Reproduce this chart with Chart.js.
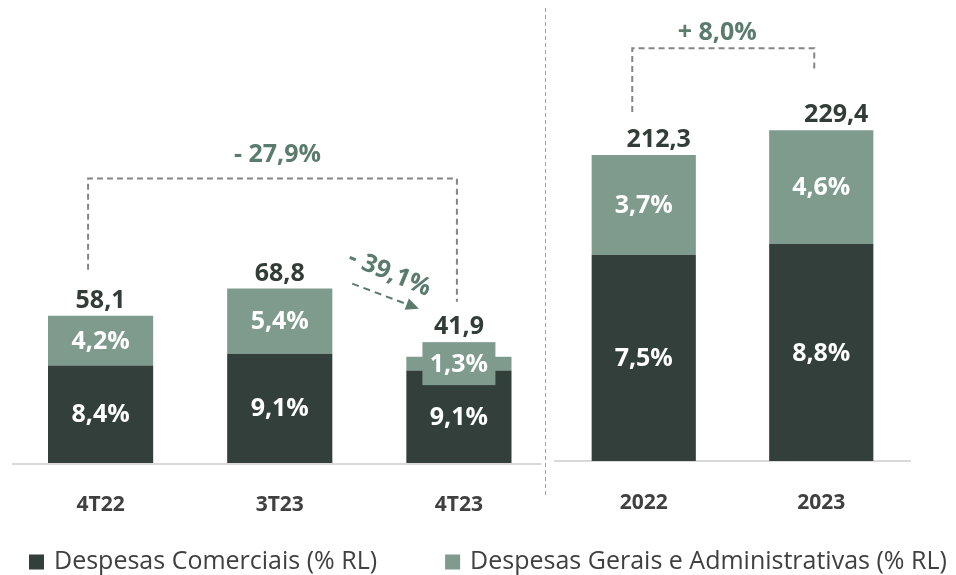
<!DOCTYPE html>
<html>
<head>
<meta charset="utf-8">
<script src="https://cdn.jsdelivr.net/npm/chart.js@4.4.1/dist/chart.umd.min.js"></script>
<style>
html, body { margin: 0; padding: 0; background: #ffffff; }
#wrap { position: relative; width: 956px; height: 575px; overflow: hidden; }
#wrap canvas { position: absolute; left: 0; top: 0; }
</style>
</head>
<body>
<div id="wrap">
  <canvas id="cQ" width="956" height="575"></canvas>
  <canvas id="cY" width="956" height="575"></canvas>
</div>
<script>
// ---------- data ----------
const quarterLabels = ['4T22', '3T23', '4T23'];
const quarterComerciais = [38.5, 43.1, 36.5];
const quarterGerais = [19.6, 25.7, 5.4];
const quarterTotals = [58.1, 68.8, 41.9];
const quarterPctComerciais = [8.4, 9.1, 9.1];
const quarterPctGerais = [4.2, 5.4, 1.3];

const yearLabels = ['2022', '2023'];
const yearComerciais = [142.9, 150.5];
const yearGerais = [69.4, 78.9];
const yearTotals = [212.3, 229.4];
const yearPctComerciais = [7.5, 8.8];
const yearPctGerais = [3.7, 4.6];

const seriesNames = ['Despesas Comerciais (% RL)', 'Despesas Gerais e Administrativas (% RL)'];
const variationLabels = ['- 27,9%', '- 39,1%', '+ 8,0%'];

// ---------- styles ----------
const DARK = '#333f3a';
const LIGHT = '#7f9b8e';
const NOTE_GREEN = '#5b7b6d';
const DASH_GREY = '#858585';
const TOTAL_TXT = '#333d38';
const AXIS_TXT = '#404040';
const FONT = "'Open Sans', 'Noto Sans', sans-serif";

function fmt(v) { return v.toFixed(1).replace('.', ','); }

// segment % labels + totals above stacks
const valueLabels = {
  id: 'valueLabels',
  afterDatasetsDraw(chart, args, opts) {
    const ctx = chart.ctx;
    const metas = [chart.getDatasetMeta(0), chart.getDatasetMeta(1)];
    const n = chart.data.labels.length;
    ctx.save();
    for (let i = 0; i < n; i++) {
      let boxTop = null;
      metas.forEach((meta, d) => {
        const el = meta.data[i];
        const cy = (el.y + el.base) / 2;
        const boxed = opts.boxed && opts.boxed.dataset === d && opts.boxed.index === i;
        if (boxed) {
          ctx.fillStyle = chart.data.datasets[d].backgroundColor;
          ctx.fillRect(el.x - opts.boxed.w / 2, cy - opts.boxed.h / 2, opts.boxed.w, opts.boxed.h);
          boxTop = cy - opts.boxed.h / 2;
        }
        ctx.font = `bold 25px ${FONT}`;
        ctx.fillStyle = '#ffffff';
        ctx.textAlign = 'center';
        ctx.textBaseline = 'middle';
        ctx.fillText(fmt(opts.pct[d][i]) + '%', el.x, cy + 1);
      });
      const top = metas[1].data[i];
      const t = boxTop !== null ? Math.min(boxTop, top.y) : top.y;
      ctx.font = `bold 25px ${FONT}`;
      ctx.fillStyle = TOTAL_TXT;
      ctx.textAlign = 'center';
      ctx.textBaseline = 'alphabetic';
      ctx.fillText(fmt(opts.totals[i]), top.x + (opts.totalDx || 0), t - 8);
    }
    ctx.restore();
  }
};

function dashedPath(ctx, pts, color, dash) {
  ctx.save();
  ctx.strokeStyle = color;
  ctx.lineWidth = 2;
  ctx.setLineDash(dash);
  ctx.beginPath();
  ctx.moveTo(pts[0][0], pts[0][1]);
  for (let k = 1; k < pts.length; k++) ctx.lineTo(pts[k][0], pts[k][1]);
  ctx.stroke();
  ctx.restore();
}

const quarterNotes = {
  id: 'quarterNotes',
  beforeDatasetsDraw(chart) {
    const ctx = chart.ctx, a = chart.chartArea;
    ctx.save();
    ctx.strokeStyle = '#d9d9d9';
    ctx.lineWidth = 2;
    ctx.beginPath();
    ctx.moveTo(a.left + 1, a.bottom + 1);
    ctx.lineTo(a.right - 7, a.bottom + 1);
    ctx.stroke();
    ctx.restore();
  },
  afterDraw(chart) {
    const ctx = chart.ctx, xs = chart.scales.x, ys = chart.scales.y, a = chart.chartArea;
    const cx = quarterLabels.map((_, i) => xs.getPixelForValue(i));
    const tops = quarterTotals.map(v => ys.getPixelForValue(v));
    const bracketY = Math.min(...tops) - 110;
    const lx = cx[0] - 12.5, rx = cx[2] - 2;
    dashedPath(ctx, [[lx, tops[0] - 46], [lx, bracketY], [rx, bracketY], [rx, tops[2] - 55]], DASH_GREY, [6, 4]);

    ctx.save();
    ctx.font = `bold 25px ${FONT}`;
    ctx.fillStyle = NOTE_GREEN;
    ctx.textAlign = 'center';
    ctx.textBaseline = 'middle';
    ctx.fillText(variationLabels[0], (lx + rx) / 2 + 5, bracketY - 24);

    // arrow 3T23 -> 4T23
    const sx = cx[1] + 72.5, sy = tops[1] - 5;
    const ex = cx[2] - 40, ey = tops[2] - 48;
    const ang = Math.atan2(ey - sy, ex - sx);
    const headLen = 13;
    const bx = ex - headLen * Math.cos(ang), by = ey - headLen * Math.sin(ang);
    dashedPath(ctx, [[sx, sy], [bx, by]], NOTE_GREEN, [7, 5]);
    ctx.fillStyle = NOTE_GREEN;
    ctx.beginPath();
    ctx.moveTo(ex, ey);
    ctx.lineTo(bx + 6 * Math.sin(ang), by - 6 * Math.cos(ang));
    ctx.lineTo(bx - 6 * Math.sin(ang), by + 6 * Math.cos(ang));
    ctx.closePath();
    ctx.fill();

    ctx.translate((sx + ex) / 2 + 4, (sy + ey) / 2 - 23);
    ctx.rotate(ang + 0.03);
    ctx.font = `bold 25px ${FONT}`;
    ctx.fillText(variationLabels[1], 0, 0);
    ctx.restore();

    // panel divider
    ctx.save();
    ctx.strokeStyle = '#c58fa3';
    ctx.lineWidth = 1;
    ctx.setLineDash([4, 3]);
    ctx.beginPath();
    ctx.moveTo(a.right - 3, 8);
    ctx.lineTo(a.right - 3, 498);
    ctx.stroke();
    ctx.restore();

    // legend
    ctx.save();
    ctx.font = `25px ${FONT}`;
    ctx.textAlign = 'left';
    ctx.textBaseline = 'middle';
    const colors = [DARK, LIGHT];
    let x = 29;
    const ly = 562;
    seriesNames.forEach((name, k) => {
      ctx.fillStyle = colors[k];
      ctx.fillRect(x, ly - 7.5, 15, 15);
      ctx.fillStyle = AXIS_TXT;
      ctx.fillText(name, x + 25, ly);
      x += 25 + ctx.measureText(name).width + 68;
    });
    ctx.restore();
  }
};

const yearNotes = {
  id: 'yearNotes',
  afterDraw(chart) {
    const ctx = chart.ctx, xs = chart.scales.x, ys = chart.scales.y;
    const cx = yearLabels.map((_, i) => xs.getPixelForValue(i));
    const tops = yearTotals.map(v => ys.getPixelForValue(v));
    const bracketY = Math.min(...tops) - 82;
    const lx = cx[0] - 11.5, rx = cx[1] - 7;
    dashedPath(ctx, [[lx, tops[0] - 43], [lx, bracketY], [rx, bracketY], [rx, tops[1] - 60]], DASH_GREY, [6, 4]);
    ctx.save();
    ctx.font = `bold 25px ${FONT}`;
    ctx.fillStyle = NOTE_GREEN;
    ctx.textAlign = 'center';
    ctx.textBaseline = 'middle';
    ctx.fillText(variationLabels[2], (lx + rx) / 2 - 6, bracketY - 15);
    ctx.restore();
  }
};

function makeChart(canvasId, labels, dark, light, yMax, padding, labelOpts, plugin, ownBorder) {
  return new Chart(document.getElementById(canvasId), {
    type: 'bar',
    data: {
      labels: labels,
      datasets: [
        { label: seriesNames[0], data: dark, backgroundColor: DARK, borderWidth: 0,
          barPercentage: 1, categoryPercentage: 0.587 },
        { label: seriesNames[1], data: light, backgroundColor: LIGHT, borderWidth: 0,
          barPercentage: 1, categoryPercentage: 0.587 }
      ]
    },
    options: {
      responsive: false,
      animation: false,
      events: [],
      layout: { padding: padding },
      scales: {
        x: {
          stacked: true,
          grid: { display: false, drawTicks: false },
          border: { display: !ownBorder, color: '#d9d9d9', width: 2 },
          ticks: { color: AXIS_TXT, font: { family: FONT, size: 21, weight: 'bold' }, padding: 29 },
          afterFit: s => { s.height = 50; }
        },
        y: {
          stacked: true,
          display: false,
          min: 0,
          max: yMax
        }
      },
      plugins: {
        legend: { display: false },
        tooltip: { enabled: false },
        valueLabels: labelOpts
      }
    },
    plugins: [valueLabels, plugin]
  });
}

makeChart('cQ', quarterLabels, quarterComerciais, quarterGerais, 178.7,
  { left: 11, right: 956 - 548.5, top: 10, bottom: 62 },
  { pct: [quarterPctComerciais, quarterPctGerais], totals: quarterTotals, totalDx: 0,
    boxed: { dataset: 1, index: 2, w: 73, h: 43 } },
  quarterNotes, true);

makeChart('cY', yearLabels, yearComerciais, yearGerais, 312.8,
  { left: 555, right: 46, top: 10, bottom: 64 },
  { pct: [yearPctComerciais, yearPctGerais], totals: yearTotals, totalDx: 15 },
  yearNotes, false);
</script>
</body>
</html>
